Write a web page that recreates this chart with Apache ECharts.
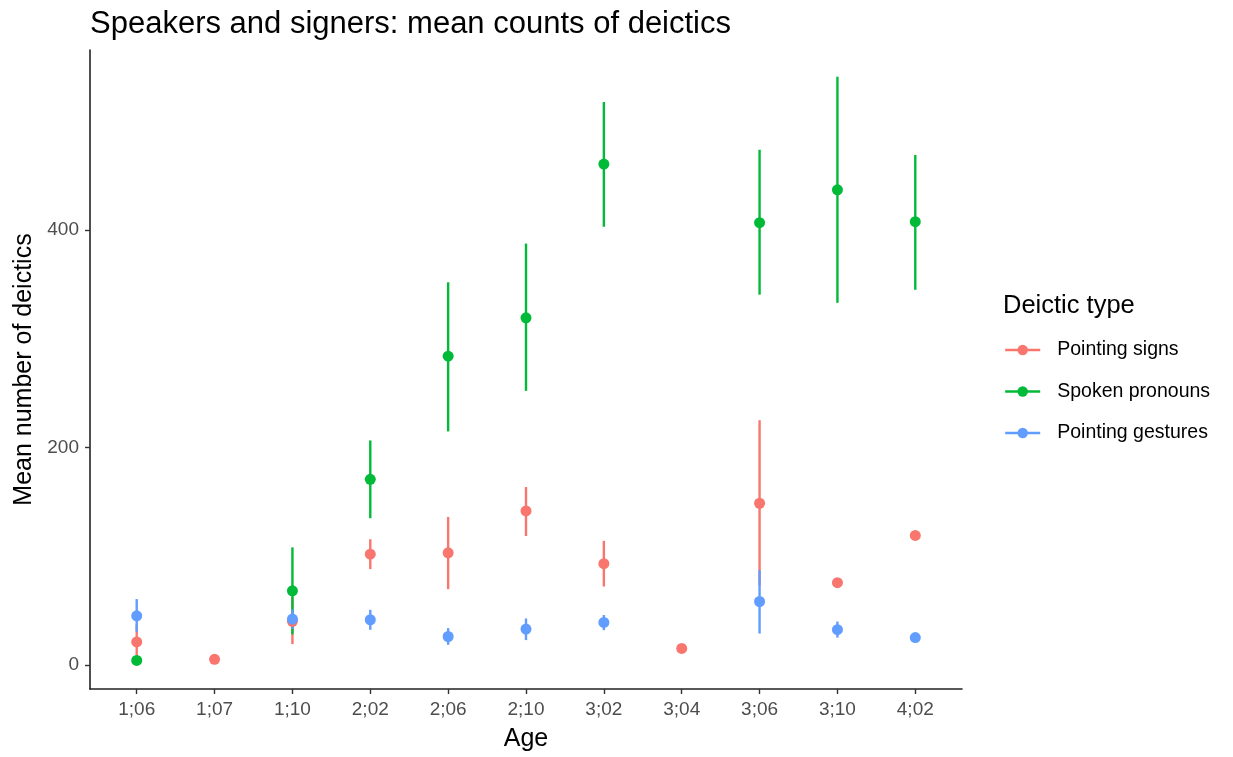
<!DOCTYPE html>
<html><head><meta charset="utf-8">
<script src="https://cdn.jsdelivr.net/npm/echarts@6/dist/echarts.min.js"></script>
<style>html,body{margin:0;padding:0;background:#fff}#c{width:1233px;height:757px}</style>
</head><body><div id="c"></div>
<script>
const ages = ['1;06','1;07','1;10','2;02','2;06','2;10','3;02','3;04','3;06','3;10','4;02'];
const seriesNames = ['Pointing signs','Spoken pronouns','Pointing gestures'];
const colors = ['#F8766D','#00BA38','#619CFF'];
const signsMean = [21, 5, 40, 101.7, 103, 141.5, 93, 15, 148.6, 75.5, 119];
const signsLow  = [5, null, 19, 88, 69.6, 118.5, 72, null, 73, null, null];
const signsHigh = [37, null, 62, 115.5, 136, 163.5, 114, null, 225, null, null];
const spokenMean = [4, null, 68, 170.6, 283.9, 319.2, 460.7, null, 406.7, 437, 407.6];
const spokenLow  = [null, null, 28, 134.8, 214.7, 252, 403, null, 340.5, 333, 345];
const spokenHigh = [null, null, 108, 206.4, 351.9, 387.5, 517.7, null, 473.8, 541, 469];
const gestMean = [45, null, 42, 41.4, 26, 32.8, 38.9, null, 58.2, 32.3, 25];
const gestLow  = [30.3, null, 33, 32.2, 18.4, 22.7, 31.8, null, 28.7, 25, null];
const gestHigh = [60.4, null, 51, 50.5, 33.7, 42.6, 45.8, null, 87, 39.7, null];
const yTicks = [0, 200, 400];

const means = [signsMean, spokenMean, gestMean];
const lows = [signsLow, spokenLow, gestLow];
const highs = [signsHigh, spokenHigh, gestHigh];
const FONT = 'Liberation Sans, Arial, Helvetica, sans-serif';
const xIdx = ages.map((a, i) => i);

const series = [];
seriesNames.forEach((name, k) => {
  const d = [];
  lows[k].forEach((lo, i) => { if (lo != null && highs[k][i] != null) d.push([i, lo, highs[k][i]]); });
  series.push({
    type: 'custom', name: name + ' range', z: 2 + k * 0.01, silent: true,
    encode: { x: 0, y: [1, 2] },
    data: d,
    renderItem: function (params, api) {
      const p1 = api.coord([api.value(0), api.value(1)]);
      const p2 = api.coord([api.value(0), api.value(2)]);
      return { type: 'line', shape: { x1: p1[0], y1: p1[1], x2: p2[0], y2: p2[1] },
        style: { stroke: colors[k], lineWidth: 2.4 } };
    }
  });
});
seriesNames.forEach((name, k) => {
  series.push({
    type: 'line', name: name, z: 5 + k * 0.01,
    data: means[k].map((v, i) => v == null ? null : [i, v]).filter(x => x),
    symbol: 'circle', symbolSize: 11, showSymbol: true,
    itemStyle: { color: colors[k], opacity: 1 },
    lineStyle: { color: colors[k], opacity: 0, width: 2 },
    emphasis: { disabled: true }, animation: false
  });
});

const chart = echarts.init(document.getElementById('c'), null, { renderer: 'canvas' });
chart.setOption({
  animation: false,
  backgroundColor: '#fff',
  title: { text: 'Speakers and signers: mean counts of deictics', left: 85, top: 4,
    textStyle: { fontFamily: FONT, fontSize: 31, fontWeight: 'normal', color: '#000' } },
  grid: { left: 90, right: 271, top: 50, bottom: 67, containLabel: false },
  xAxis: {
    type: 'value', min: -0.6, max: 10.6,
    name: 'Age', nameLocation: 'middle', nameGap: 38,
    nameTextStyle: { fontFamily: FONT, fontSize: 25, color: '#000' },
    axisLine: { show: true, onZero: false, lineStyle: { color: '#222', width: 1.6 } },
    axisTick: { show: true, length: 5, customValues: xIdx, lineStyle: { color: '#333', width: 1.4 } },
    axisLabel: { customValues: xIdx, margin: 11, formatter: v => ages[Math.round(v)],
      fontFamily: FONT, fontSize: 19, color: '#4D4D4D' },
    splitLine: { show: false }
  },
  yAxis: {
    type: 'value', min: -22.3, max: 565.6,
    name: 'Mean number of deictics', nameLocation: 'middle', nameGap: 53,
    nameTextStyle: { fontFamily: FONT, fontSize: 25, color: '#000' },
    axisLine: { show: true, onZero: false, lineStyle: { color: '#222', width: 1.6 } },
    axisTick: { show: true, length: 5, customValues: yTicks, lineStyle: { color: '#333', width: 1.4 } },
    axisLabel: { customValues: yTicks, margin: 11, fontFamily: FONT, fontSize: 19, color: '#4D4D4D' },
    splitLine: { show: false }
  },
  legend: {
    orient: 'vertical', left: 999, top: 335,
    data: seriesNames, itemWidth: 35, itemHeight: 13, itemGap: 21.5,
    lineStyle: { opacity: 1, width: 2.4 },
    textStyle: { fontFamily: FONT, fontSize: 19.5, color: '#000', padding: [0, 0, 0, 12] },
    selectedMode: false
  },
  graphic: [{ type: 'text', left: 1003, top: 293,
    style: { text: 'Deictic type', fontFamily: FONT, fontSize: 25.5, fill: '#000' } }],
  series: series
});
</script></body></html>
